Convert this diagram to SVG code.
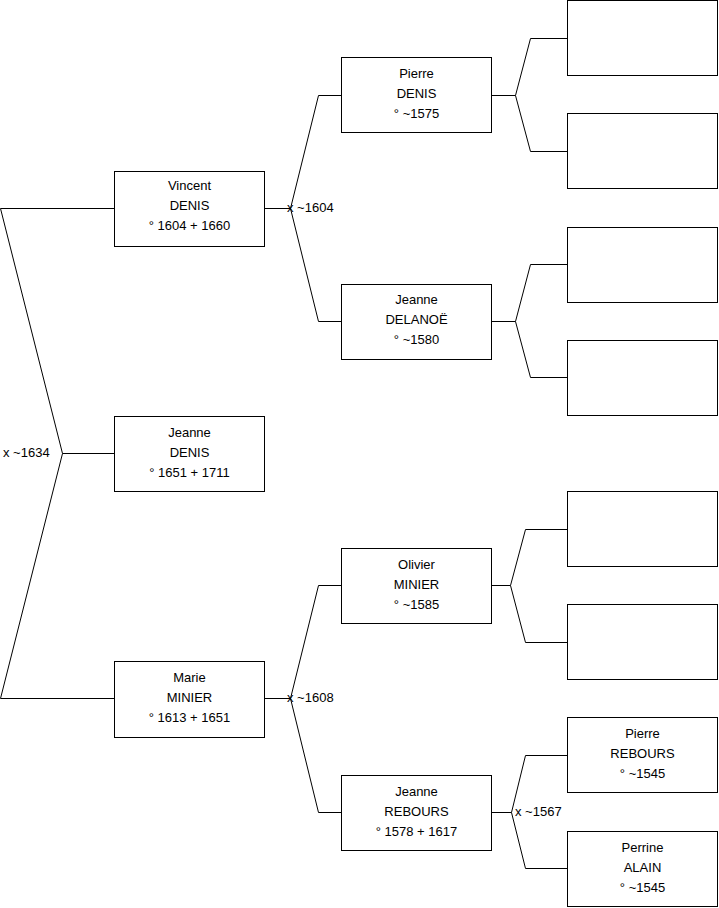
<svg xmlns="http://www.w3.org/2000/svg" width="719" height="908" viewBox="0 0 719 908">
<style>
.box{fill:#fff;stroke:#000;stroke-width:1}
.ln{fill:none;stroke:#000;stroke-width:1}
text{font-family:"Liberation Sans",Arial,sans-serif;font-size:13px;fill:#000}
.c{text-anchor:middle}
</style>
<rect width="719" height="908" fill="#fff"/>
<g id="connectors">
<polyline class="ln" points="114,208.5 0.5,208.5 62.5,453.5 0.5,698.5 114,698.5"/>
<line class="ln" x1="62.5" y1="453.5" x2="114" y2="453.5"/>
<text x="3" y="457">x ~1634</text>
<polyline class="ln" points="341,95.5 318.5,95.5 290.5,208.5 318.5,321.5 341,321.5"/>
<line class="ln" x1="265" y1="208.5" x2="290.5" y2="208.5"/>
<text x="287" y="212">x ~1604</text>
<polyline class="ln" points="341,585.5 318.5,585.5 290.5,698.5 318.5,812.5 341,812.5"/>
<line class="ln" x1="265" y1="698.5" x2="290.5" y2="698.5"/>
<text x="287" y="702">x ~1608</text>
<polyline class="ln" points="567,38.5 530.5,38.5 515.5,95.5 530.5,151.5 567,151.5"/>
<line class="ln" x1="491" y1="95.5" x2="515.5" y2="95.5"/>
<polyline class="ln" points="567,264.5 530.5,264.5 515.5,321.5 530.5,377.5 567,377.5"/>
<line class="ln" x1="491" y1="321.5" x2="515.5" y2="321.5"/>
<polyline class="ln" points="567,529.5 525.5,529.5 510.5,585.5 525.5,642.5 567,642.5"/>
<line class="ln" x1="491" y1="585.5" x2="510.5" y2="585.5"/>
<polyline class="ln" points="567,755.5 525.5,755.5 511.5,812.5 525.5,868.5 567,868.5"/>
<line class="ln" x1="491" y1="812.5" x2="511.5" y2="812.5"/>
<text x="515" y="816">x ~1567</text>
</g>
<g id="vincent"><rect class="box" x="114.5" y="171.5" width="150" height="75"/>
<text class="c" x="189.5" y="190">Vincent</text><text class="c" x="189.5" y="210">DENIS</text><text class="c" x="189.5" y="230">° 1604 + 1660</text></g>
<g id="jeanne-denis"><rect class="box" x="114.5" y="416.5" width="150" height="75"/>
<text class="c" x="189.5" y="437">Jeanne</text><text class="c" x="189.5" y="457">DENIS</text><text class="c" x="189.5" y="477">° 1651 + 1711</text></g>
<g id="marie"><rect class="box" x="114.5" y="661.5" width="150" height="76"/>
<text class="c" x="189.5" y="682">Marie</text><text class="c" x="189.5" y="702">MINIER</text><text class="c" x="189.5" y="722">° 1613 + 1651</text></g>
<g id="pierre-denis"><rect class="box" x="341.5" y="57.5" width="150" height="75"/>
<text class="c" x="416.5" y="78">Pierre</text><text class="c" x="416.5" y="98">DENIS</text><text class="c" x="416.5" y="118">° ~1575</text></g>
<g id="jeanne-delanoe"><rect class="box" x="341.5" y="284.5" width="150" height="75"/>
<text class="c" x="416.5" y="304">Jeanne</text><text class="c" x="416.5" y="324">DELANOË</text><text class="c" x="416.5" y="344">° ~1580</text></g>
<g id="olivier"><rect class="box" x="341.5" y="548.5" width="150" height="75"/>
<text class="c" x="416.5" y="569">Olivier</text><text class="c" x="416.5" y="589">MINIER</text><text class="c" x="416.5" y="609">° ~1585</text></g>
<g id="jeanne-rebours"><rect class="box" x="341.5" y="775.5" width="150" height="75"/>
<text class="c" x="416.5" y="796">Jeanne</text><text class="c" x="416.5" y="816">REBOURS</text><text class="c" x="416.5" y="836">° 1578 + 1617</text></g>
<g id="g3-1"><rect class="box" x="567.5" y="0.5" width="150" height="75"/></g>
<g id="g3-2"><rect class="box" x="567.5" y="113.5" width="150" height="75"/></g>
<g id="g3-3"><rect class="box" x="567.5" y="227.5" width="150" height="75"/></g>
<g id="g3-4"><rect class="box" x="567.5" y="340.5" width="150" height="75"/></g>
<g id="g3-5"><rect class="box" x="567.5" y="491.5" width="150" height="75"/></g>
<g id="g3-6"><rect class="box" x="567.5" y="604.5" width="150" height="75"/></g>
<g id="pierre-rebours"><rect class="box" x="567.5" y="717.5" width="150" height="75"/>
<text class="c" x="642.5" y="738">Pierre</text><text class="c" x="642.5" y="758">REBOURS</text><text class="c" x="642.5" y="778">° ~1545</text></g>
<g id="perrine-alain"><rect class="box" x="567.5" y="831.5" width="150" height="75"/>
<text class="c" x="642.5" y="852">Perrine</text><text class="c" x="642.5" y="872">ALAIN</text><text class="c" x="642.5" y="892">° ~1545</text></g>
</svg>
